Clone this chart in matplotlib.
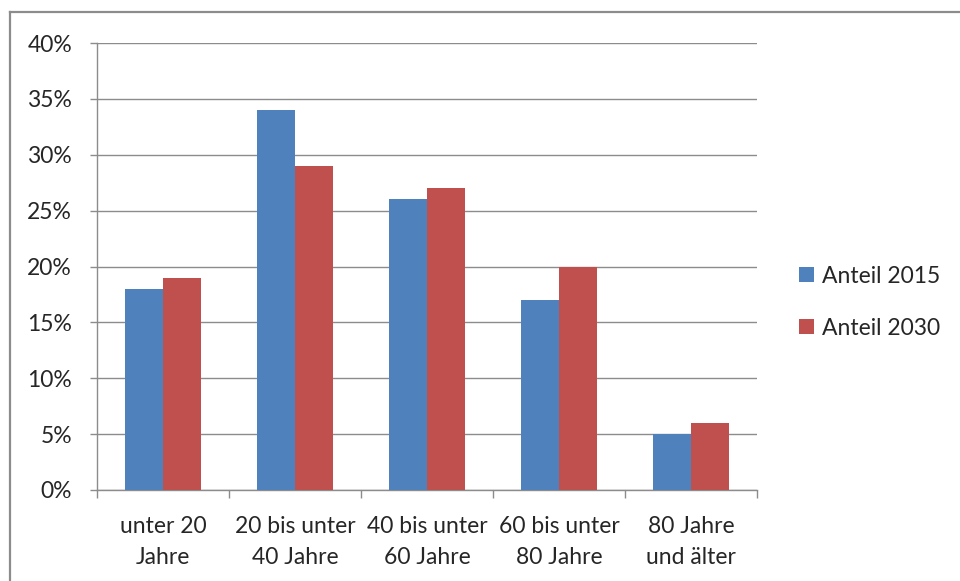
import numpy as np
import matplotlib.pyplot as plt
from matplotlib.lines import Line2D
from matplotlib.ticker import PercentFormatter

categories = ["unter 20\nJahre", "20 bis unter\n40 Jahre", "40 bis unter\n60 Jahre",
              "60 bis unter\n80 Jahre", "80 Jahre\nund älter"]
anteil_2015 = [18, 34, 26, 17, 5]
anteil_2030 = [19, 29, 27, 20, 6]
series_names = ["Anteil 2015", "Anteil 2030"]

plt.rcParams['font.family'] = ['Lato', 'DejaVu Sans']

fig = plt.figure(figsize=(9.6, 5.81), dpi=100)
ax = fig.add_axes([97/960, 1-490/581, 660/960, 447/581])

# outer frame (cut off on right and bottom like the original)
fig.add_artist(Line2D([9.5/960, 9.5/960], [1-12/581, -0.1], color='#8c8c8c', lw=1.6, transform=fig.transFigure))
fig.add_artist(Line2D([9.5/960, 1.1], [1-12/581, 1-12/581], color='#8c8c8c', lw=1.6, transform=fig.transFigure))

x = np.arange(len(categories))
w = 0.286
ax.bar(x - w/2, anteil_2015, w, color='#4F81BD', label=series_names[0], zorder=3)
ax.bar(x + w/2, anteil_2030, w, color='#C0504D', label=series_names[1], zorder=3)

ax.set_xlim(-0.5, len(categories) - 0.5)
ax.set_ylim(0, 40)
ax.set_yticks(np.arange(0, 41, 5))
ax.yaxis.set_major_formatter(PercentFormatter(decimals=0))
ax.yaxis.grid(True, color='#8c8c8c', lw=1, zorder=0)

ax.set_xticks(np.arange(-0.5, len(categories), 1))
ax.set_xticklabels([])
ax.set_xticks(x, minor=True)
ax.set_xticklabels(categories, minor=True, fontsize=16.5, color='#262626', linespacing=1.62)
ax.tick_params(axis='x', which='minor', length=0, pad=18.5)
ax.tick_params(axis='x', which='major', length=6, color='#8c8c8c', width=1)
ax.tick_params(axis='y', length=5, color='#8c8c8c', width=1, labelsize=16.5, labelcolor='#262626', pad=13)

for s in ['top', 'right']:
    ax.spines[s].set_visible(False)
for s in ['left', 'bottom']:
    ax.spines[s].set_color('#8c8c8c')
    ax.spines[s].set_linewidth(1)

ax.legend(loc='center left', bbox_to_anchor=(1.033, 0.42), frameon=False, fontsize=16.5,
          handlelength=0.65, handleheight=0.65, handletextpad=0.35, labelspacing=1.35,
          labelcolor='#262626')

fig.savefig('out.png', dpi=100)
